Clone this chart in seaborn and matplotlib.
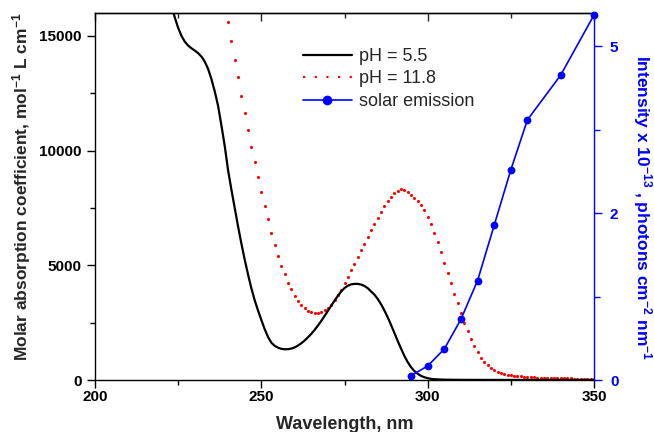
import matplotlib
matplotlib.use("Agg")
import matplotlib.pyplot as plt
from matplotlib.lines import Line2D
from matplotlib.ticker import MultipleLocator, FixedLocator, FormatStrFormatter
import seaborn as sns

# Absorption spectrum at pH 5.5 (wavelength in nm, epsilon in mol^-1 L cm^-1)
wl_acid = [219, 221, 222, 223, 224, 225, 226, 227, 228, 229, 230, 231, 232, 233,
           234, 235, 236, 237, 238, 239, 240, 241, 242, 243, 244, 245, 246, 247,
           248, 249, 250, 251, 252, 253, 254, 255, 256, 257, 258, 259, 260, 261,
           262, 263, 264, 265, 266, 267, 268, 269, 270, 271, 272, 273, 274, 275,
           276, 277, 278, 279, 280, 281, 282, 283, 284, 285, 286, 287, 288, 289,
           290, 291, 292, 293, 294, 295, 296, 297, 298, 299, 300, 301, 302, 304,
           306, 310, 320, 330, 340, 350]
eps_acid = [19000, 17600, 16900, 16300, 15800, 15350, 15000, 14750, 14580, 14460,
            14360, 14250, 14100, 13880, 13560, 13120, 12580, 11950, 11100, 10200,
            9150, 8300, 7500, 6700, 5950, 5250, 4600, 4000, 3480, 3030, 2620, 2220,
            1880, 1630, 1490, 1410, 1360, 1340, 1345, 1370, 1420, 1500, 1600, 1720,
            1860, 2010, 2180, 2370, 2570, 2790, 3010, 3240, 3460, 3670, 3860, 4010,
            4110, 4170, 4190, 4190, 4160, 4100, 4000, 3860, 3720, 3530, 3300, 3030,
            2730, 2400, 2050, 1700, 1370, 1050, 780, 560, 390, 270, 180, 120, 80,
            50, 35, 20, 12, 6, 3, 2, 1, 0]

# Absorption spectrum at pH 11.8, one reading per nm from 238 to 350 nm
wl_base = list(range(238, 351))
eps_base = [17400, 16400, 15600, 14800, 13950, 13200, 12400, 11650, 10900, 10150,
            9500, 8850, 8200, 7580, 7000, 6420, 5900, 5420, 4980, 4600,
            4250, 3950, 3680, 3460, 3280, 3130, 3020, 2950, 2920, 2930,
            2970, 3040, 3150, 3290, 3470, 3690, 3940, 4210, 4490, 4780,
            5070, 5360, 5650, 5940, 6230, 6520, 6800, 7070, 7330, 7570,
            7790, 7980, 8140, 8260, 8310, 8290, 8200, 8080, 7940, 7790,
            7610, 7390, 7120, 6800, 6420, 6000, 5560, 5110, 4660, 4210,
            3770, 3340, 2930, 2500, 2120, 1780, 1480, 1210, 980, 800,
            650, 530, 440, 370, 315, 270, 235, 210, 188, 170,
            155, 140, 128, 118, 110, 104, 98, 93, 88, 84,
            80, 77, 74, 71, 68, 66, 64, 62, 60, 58,
            57, 56, 55]

# Solar emission (x 1e-13 photons cm^-2 nm^-1)
wl_sun = [295, 300, 305, 310, 315, 320, 325, 330, 340, 350]
sun_intensity = [0.065, 0.21, 0.465, 0.91, 1.49, 2.32, 3.15, 3.90, 4.57, 5.47]

legend_labels = ["pH = 5.5", "pH = 11.8", "solar emission"]

sns.set_style("ticks")
plt.rcParams["font.family"] = ["Liberation Sans", "DejaVu Sans"]
plt.rcParams["font.weight"] = "bold"
plt.rcParams["axes.labelweight"] = "bold"
plt.rcParams["mathtext.fontset"] = "custom"
plt.rcParams["mathtext.rm"] = "Liberation Sans:bold"
plt.rcParams["mathtext.it"] = "Liberation Sans:bold"
plt.rcParams["mathtext.bf"] = "Liberation Sans:bold"
plt.rcParams["mathtext.default"] = "rm"

blue = "#0000ff"

fig = plt.figure(figsize=(6.54, 4.32), dpi=100)
ax = fig.add_axes([95 / 654, 1 - 380 / 432, 499 / 654, 367 / 432])

sns.lineplot(x=wl_acid, y=eps_acid, ax=ax, color="black", lw=1.6)
sns.scatterplot(x=wl_base, y=eps_base, ax=ax, color="red", s=5, linewidth=0)

ax.set_xlim(200, 350)
ax.set_ylim(0, 16000)
ax.xaxis.set_major_locator(MultipleLocator(50))
ax.xaxis.set_minor_locator(MultipleLocator(25))
ax.yaxis.set_major_locator(MultipleLocator(5000))
ax.yaxis.set_minor_locator(MultipleLocator(2500))
ax.tick_params(which="both", direction="out", width=1, colors="black",
               labelsize=11)
ax.tick_params(which="major", length=5.5)
ax.tick_params(which="minor", length=3.5)
ax.tick_params(axis="x", pad=2)
ax.tick_params(axis="y", pad=4)
for side in ["left", "top", "bottom"]:
    ax.spines[side].set_linewidth(1)
    ax.spines[side].set_color("black")
ax.spines["right"].set_visible(False)

# inward ticks mirrored on the top edge
top = ax.secondary_xaxis("top")
top.xaxis.set_major_locator(MultipleLocator(50))
top.xaxis.set_minor_locator(MultipleLocator(25))
top.tick_params(which="both", direction="in", width=1, labeltop=False)
top.tick_params(which="major", length=5.5)
top.tick_params(which="minor", length=3.5)
top.spines["top"].set_linewidth(1)

ax.set_xlabel("Wavelength, nm", fontsize=13, labelpad=8.5)
ax.set_ylabel("Molar absorption coefficient, mol$^{-1}$ L cm$^{-1}$", fontsize=12.5)
ax.yaxis.set_label_coords((33 - 95) / 499, 0.5 + 10 / 367)

# solar emission on a second y axis
ax2 = ax.twinx()
sns.lineplot(x=wl_sun, y=sun_intensity, ax=ax2, color=blue, lw=1.2,
             marker="o", markersize=5.6, markeredgewidth=0, clip_on=False)
ax2.set_ylim(0, 5.5)
ax2.yaxis.set_major_locator(FixedLocator([0, 2.5, 5]))
ax2.yaxis.set_minor_locator(FixedLocator([1.25, 3.75]))
ax2.yaxis.set_major_formatter(FormatStrFormatter("%.0f"))
ax2.tick_params(which="both", direction="out", width=1, colors=blue,
                labelsize=11, pad=6)
ax2.tick_params(which="major", length=5.5)
ax2.tick_params(which="minor", length=4.5)
for side in ["left", "top", "bottom"]:
    ax2.spines[side].set_visible(False)
ax2.spines["right"].set_color(blue)
ax2.spines["right"].set_linewidth(1)
ax2.set_ylabel("Intensity x 10$^{-13}$ , photons cm$^{-2}$ nm$^{-1}$",
               fontsize=12.5, color=blue, rotation=270, va="bottom")
ax2.yaxis.set_label_coords((631 - 95) / 499, 0.5 - 11 / 367)

handles = [
    Line2D([0], [0], color="black", lw=1.6),
    Line2D([0], [0], color="red", lw=1.6, ls=(0, (1, 4.25))),
    Line2D([0], [0], color=blue, lw=1.2, marker="o", markersize=7,
           markeredgewidth=0),
]
ax.legend(handles, legend_labels, loc="upper left",
          bbox_to_anchor=(303 / 654, 1 - 48 / 432),
          bbox_transform=fig.transFigure, frameon=False,
          prop={"weight": "normal", "size": 13}, handlelength=2.71,
          handletextpad=0.39, labelspacing=0.3, borderpad=0,
          borderaxespad=0)

fig.savefig("out.png", dpi=100)
